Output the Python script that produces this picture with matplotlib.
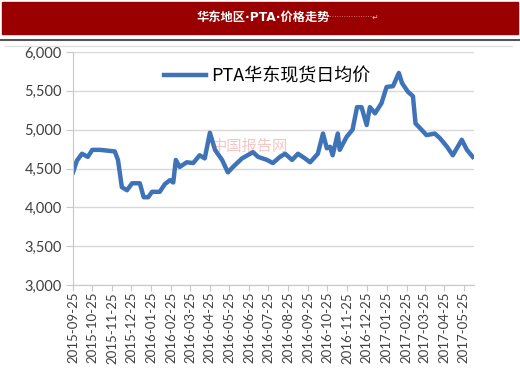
import matplotlib
matplotlib.use("Agg")
import matplotlib.pyplot as plt
import matplotlib.dates as mdates
from matplotlib.patches import Rectangle
from matplotlib.lines import Line2D
from matplotlib.ticker import FuncFormatter
import pandas as pd

plt.rcParams['font.family'] = ['Noto Sans CJK SC', 'DejaVu Sans']

# PTA spot daily average price, East China (yuan/ton)
dates = ["2015-09-25", "2015-10-01", "2015-10-09", "2015-10-18", "2015-10-25",
         "2015-11-06", "2015-11-29", "2015-12-04", "2015-12-10", "2015-12-18",
         "2015-12-26", "2016-01-07", "2016-01-13", "2016-01-20", "2016-01-26",
         "2016-02-07", "2016-02-15", "2016-02-23", "2016-02-28", "2016-03-03",
         "2016-03-09", "2016-03-20", "2016-03-30", "2016-04-09", "2016-04-17",
         "2016-04-25", "2016-05-03", "2016-05-14", "2016-05-23", "2016-05-31",
         "2016-06-14", "2016-07-01", "2016-07-09", "2016-07-23", "2016-08-01",
         "2016-08-12", "2016-08-20", "2016-08-31", "2016-09-09", "2016-09-20",
         "2016-09-28", "2016-10-10", "2016-10-18", "2016-10-24", "2016-10-29",
         "2016-11-02", "2016-11-10", "2016-11-13", "2016-11-24", "2016-12-03",
         "2016-12-10", "2016-12-17", "2016-12-25", "2016-12-30", "2017-01-07",
         "2017-01-17", "2017-01-25", "2017-02-04", "2017-02-13", "2017-02-18",
         "2017-02-27", "2017-03-07", "2017-03-11", "2017-03-18", "2017-03-28",
         "2017-04-10", "2017-04-18", "2017-04-29", "2017-05-08", "2017-05-22",
         "2017-05-30", "2017-06-08"]
prices = [4450, 4600, 4690, 4650, 4740,
          4740, 4720, 4610, 4260, 4220,
          4310, 4310, 4130, 4130, 4200,
          4200, 4300, 4350, 4320, 4610,
          4520, 4580, 4570, 4670, 4630,
          4960, 4740, 4610, 4450, 4520,
          4630, 4710, 4650, 4610, 4570,
          4650, 4690, 4610, 4690, 4630,
          4580, 4690, 4950, 4760, 4780,
          4670, 4950, 4740, 4910, 5000,
          5290, 5290, 5060, 5290, 5210,
          5340, 5550, 5560, 5730, 5600,
          5490, 5430, 5080, 5020, 4930,
          4950, 4890, 4780, 4670, 4870,
          4740, 4650]
tick_dates = pd.date_range("2015-09-01", "2017-05-01", freq="MS") + pd.Timedelta(days=24)
series_name = "PTA华东现货日均价"
title = "华东地区·PTA·价格走势"

W, H = 520, 391
fig = plt.figure(figsize=(W / 100, H / 100), dpi=100)

# red banner on top
fig.patches.append(Rectangle((2 / W, 1 - 34 / H), 516 / W, 32 / H,
                             transform=fig.transFigure, color="#9a0000", zorder=0))
fig.text(197 / W, 1 - 17 / H, title, color="white", fontsize=8.8,
         fontweight="bold", ha="left", va="center",
         family=["DejaVu Sans", "Noto Sans CJK SC"])
fig.text(327 / W, 1 - 17 / H, "···················↵", color="#e8c0c0", fontsize=5.5,
         ha="left", va="center", family=["DejaVu Sans"])
fig.lines.append(Line2D([0, 1], [1 - 40 / H, 1 - 40 / H], transform=fig.transFigure,
                        color="#555555", lw=1.5))
fig.lines.append(Line2D([5 / W, 512 / W], [1 - 46 / H, 1 - 46 / H],
                        transform=fig.transFigure, color="#dddddd", lw=0.8))

ax = fig.add_axes([73 / W, 1 - 285 / H, 401 / W, 233 / H])
x = pd.to_datetime(dates)
line, = ax.plot(x, prices, color="#3f73b8", lw=3.2, solid_joinstyle="round",
                label=series_name)

ax.set_ylim(3000, 6000)
ax.set_yticks(range(3000, 6001, 500))
ax.yaxis.set_major_formatter(FuncFormatter(lambda v, p: f"{int(v):,}"))
ax.set_xlim(pd.Timestamp("2015-09-25"), pd.Timestamp("2017-06-10"))
ax.set_xticks(tick_dates)
ax.xaxis.set_major_formatter(mdates.DateFormatter("%Y-%m-%d"))

ax.grid(axis="y", color="#d9d9d9", lw=1)
ax.set_axisbelow(True)
for s in ["top", "right"]:
    ax.spines[s].set_visible(False)
for s in ["left", "bottom"]:
    ax.spines[s].set_color("#c8c8c8")
ax.tick_params(axis="y", labelsize=10.5, labelcolor="#404040", color="#c8c8c8",
               length=5, pad=3)
ax.tick_params(axis="x", labelsize=9.5, labelcolor="#404040", color="#c8c8c8",
               length=4, pad=1, labelrotation=90)
for t in ax.get_yticklabels() + ax.get_xticklabels():
    t.set_family(["Lato", "DejaVu Sans"])

# faint watermark
fig.text(212 / W, 1 - 146 / H, "中国报告网", color="#e06060", alpha=0.35,
         fontsize=11, ha="left", va="center")

fig.legend(handles=[line], loc="center left", bbox_to_anchor=(148 / W, 1 - 76 / H),
           frameon=False, fontsize=13, handlelength=2.3, handletextpad=0.3)

fig.savefig("out.png", dpi=100)
